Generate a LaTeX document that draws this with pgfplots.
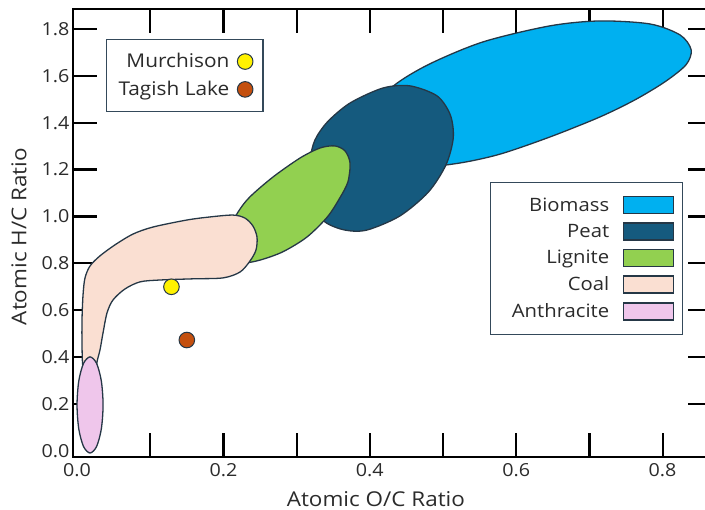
\documentclass[border=0pt]{standalone}
\usepackage{pgfplots}
\pgfplotsset{compat=1.18}
\usepackage{fontspec}
\setmainfont{Open Sans}[FakeStretch=1.1]
\definecolor{biomass}{HTML}{00B0F0}
\definecolor{peat}{HTML}{155A7E}
\definecolor{lignite}{HTML}{92D050}
\definecolor{coal}{HTML}{FADFD2}
\definecolor{anthra}{HTML}{EFC6EB}
\definecolor{outline}{HTML}{253746}
\definecolor{murch}{HTML}{FFF200}
\definecolor{tagish}{HTML}{C4500F}
\definecolor{txt}{HTML}{2B2B2B}
\definecolor{boxcol}{HTML}{34495A}
\begin{document}
\begin{tikzpicture}
\begin{axis}[
  at={(73bp,53bp)}, anchor=south west,
  width=639bp, height=448bp, scale only axis,
  xmin=-0.0055, xmax=0.8675, ymin=-0.026, ymax=1.885,
  xtick={0.2,0.4,0.6,0.8}, minor xtick={0.1,0.3,0.5,0.7},
  ytick={0.2,0.4,0.6,0.8,1.0,1.2,1.4,1.6,1.8},
  extra x ticks={0}, extra y ticks={0},
  extra tick style={major tick length=0pt},
  tick align=inside, major tick length=24bp, minor tick length=24bp,
  tick style={line width=2.2bp, black},
  axis line style={line width=1.2bp, black},
  tick label style={font=\fontsize{18}{18}\selectfont, color=txt},
  xticklabel style={yshift=-3bp},
  /pgf/number format/fixed, /pgf/number format/fixed zerofill,
  /pgf/number format/precision=1, /pgf/number format/assume math mode=true,
  xlabel={Atomic O/C Ratio}, ylabel={Atomic H/C Ratio},
  xlabel style={at={(axis description cs:0.474,-0.093)}, anchor=center, font=\fontsize{20.5}{20.5}\selectfont, color=txt},
  ylabel style={at={(axis description cs:-0.0845,0.492)}, anchor=center, font=\fontsize{20.5}{20.5}\selectfont, color=txt},
  legend style={at={(0.9546,0.6138)}, anchor=north east, draw=boxcol, line width=1.2bp,
    font=\fontsize{18.5}{18.5}\selectfont, text=txt, row sep=7.5bp,
    inner xsep=8bp, inner ysep=13bp,
    /tikz/every odd column/.append style={column sep=12bp}},
  legend cell align=right, legend plot pos=right,
  legend image code/.code={\draw[#1, line width=1.2bp] (0bp,-8.5bp) rectangle (50bp,8.5bp);},
]
% Biomass
\addplot[fill=biomass, draw=outline, line width=1.3bp, smooth cycle] coordinates {
(0.393,1.326) (0.407,1.463) (0.434,1.561) (0.482,1.651) (0.555,1.745) (0.646,1.813)
(0.714,1.834) (0.783,1.821) (0.824,1.774) (0.839,1.711) (0.832,1.647) (0.803,1.574)
(0.762,1.497) (0.714,1.424) (0.646,1.339) (0.578,1.266) (0.523,1.228) (0.469,1.211) (0.428,1.233)};
\addlegendentry{Biomass}
% Peat
\addplot[fill=peat, draw=outline, line width=1.3bp, smooth cycle] coordinates {
(0.318,1.241) (0.325,1.326) (0.342,1.403) (0.373,1.484) (0.418,1.548) (0.455,1.557)
(0.492,1.514) (0.510,1.433) (0.514,1.335) (0.504,1.220) (0.480,1.104) (0.441,1.002)
(0.396,0.942) (0.366,0.942) (0.339,0.976) (0.321,1.049) (0.316,1.147)};
\addlegendentry{Peat}
% Lignite
\addplot[fill=lignite, draw=outline, line width=1.3bp, smooth cycle] coordinates {
(0.206,0.934) (0.220,1.019) (0.236,1.083) (0.268,1.169) (0.305,1.250) (0.332,1.292)
(0.352,1.301) (0.366,1.280) (0.373,1.228) (0.370,1.147) (0.359,1.079) (0.342,0.998)
(0.314,0.912) (0.281,0.849) (0.250,0.814) (0.227,0.802) (0.209,0.823) (0.202,0.879)};
\addlegendentry{Lignite}
% Coal
\addplot[fill=coal, draw=outline, line width=1.3bp, smooth cycle] coordinates {
(0.0150,0.312) (0.0082,0.354) (0.0068,0.452) (0.0068,0.559) (0.0082,0.665) (0.0109,0.738)
(0.0178,0.789) (0.0314,0.832) (0.0519,0.879) (0.0765,0.925) (0.1038,0.955) (0.1503,0.985)
(0.1817,0.998) (0.2131,1.006) (0.2295,0.993) (0.2404,0.959) (0.2459,0.912) (0.2445,0.857)
(0.2363,0.810) (0.2227,0.763) (0.1995,0.738) (0.1585,0.734) (0.1134,0.729) (0.0861,0.721)
(0.0656,0.691) (0.0492,0.644) (0.0410,0.589) (0.0355,0.503) (0.0314,0.431) (0.0273,0.380)
(0.0246,0.324)};
\addlegendentry{Coal}
% Anthracite
\addplot[fill=anthra, draw=outline, line width=1.3bp, smooth cycle] coordinates {
(0.0356,0.196) (0.0332,0.2985) (0.0267,0.3735) (0.0178,0.401) (0.0089,0.3735) (0.0024,0.2985)
(0.0,0.196) (0.0024,0.0935) (0.0089,0.0185) (0.0178,-0.009) (0.0267,0.0185) (0.0332,0.0935)};
\addlegendentry{\hspace*{11bp}Anthracite}
\end{axis}
\begin{axis}[
  at={(73bp,53bp)}, anchor=south west,
  width=639bp, height=448bp, scale only axis,
  xmin=-0.0055, xmax=0.8675, ymin=-0.026, ymax=1.885,
  hide axis,
  legend style={at={(0.0516,0.933)}, anchor=north west, draw=boxcol, line width=1.2bp,
    font=\fontsize{19}{19}\selectfont, text=txt, row sep=8bp,
    inner xsep=10bp, inner ysep=12bp,
    /tikz/every odd column/.append style={column sep=6bp}},
  legend cell align=right, legend plot pos=right,
  legend image code/.code={\draw[#1] plot coordinates {(8bp,0bp)};},
]
\addplot[only marks, mark=*, mark size=7.8bp, mark options={fill=murch, draw=outline, line width=1bp}] coordinates {(0.129,0.700)};
\addlegendentry{Murchison}
\addplot[only marks, mark=*, mark size=7.8bp, mark options={fill=tagish, draw=outline, line width=1bp}] coordinates {(0.150,0.473)};
\addlegendentry{Tagish Lake}
\end{axis}
\pgfresetboundingbox
\useasboundingbox (0,0) rectangle (705bp,510bp);
\end{tikzpicture}
\end{document}
